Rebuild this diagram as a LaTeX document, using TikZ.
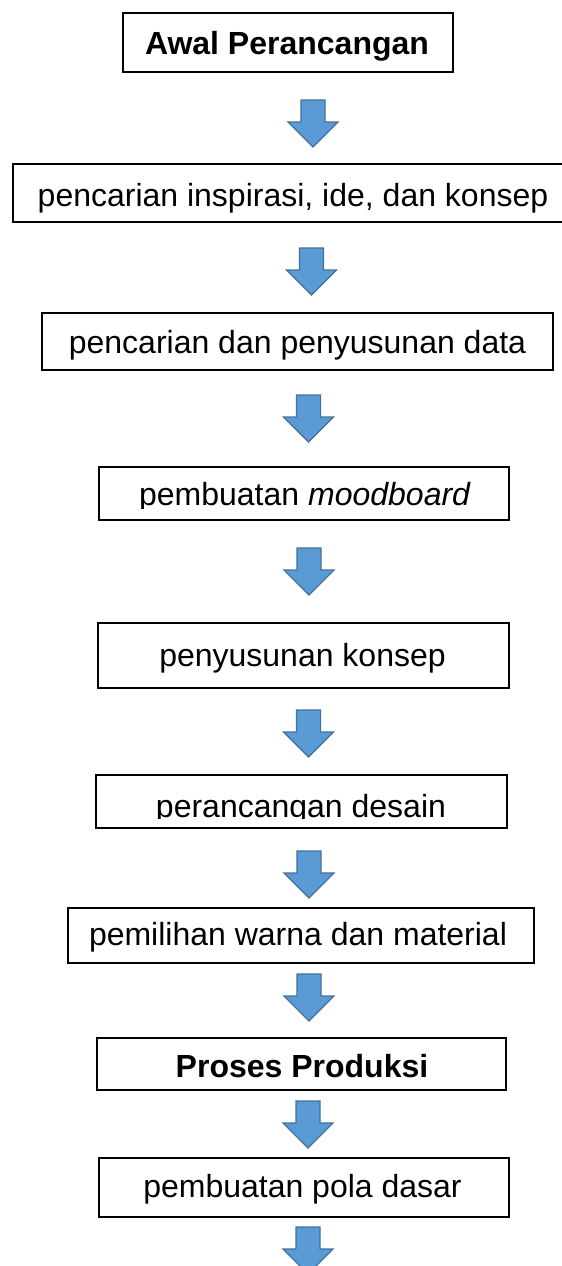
\documentclass[tikz,border=0pt]{standalone}
\usepackage{fontspec}
\setmainfont{Liberation Sans}
\usepackage{tikz}
\definecolor{arrowfill}{HTML}{5B9BD5}
\definecolor{arrowedge}{HTML}{41719C}
\tikzset{
	box/.style={draw=black,line width=1.8pt,rectangle,inner sep=0pt},
	steptext/.style={anchor=base,inner sep=0pt,font=\fontsize{32pt}{38pt}\selectfont},
	blockarrow/.style={fill=arrowfill,draw=arrowedge,line width=1.2pt,line join=miter}
}
\begin{document}
\begin{tikzpicture}[x=1pt,y=-1pt]
		\useasboundingbox (0,0) rectangle (562,1266);
		% boxes
		\node[box,minimum width=330pt,minimum height=59pt](b1) at (288,42.5){};
		\node[box,minimum width=552pt,minimum height=58pt](b2) at (289,193){};
		\node[box,minimum width=511pt,minimum height=57pt](b3) at (297.5,341.5){};
		\node[box,minimum width=410pt,minimum height=53pt](b4) at (304,493.5){};
		\node[box,minimum width=411pt,minimum height=65pt](b5) at (303.5,655.5){};
		\node[box,minimum width=411pt,minimum height=53pt](b6) at (301.5,801.5){};
		\node[box,minimum width=466pt,minimum height=55pt](b7) at (301,935.5){};
		\node[box,minimum width=409pt,minimum height=52pt](b8) at (301.5,1064){};
		\node[box,minimum width=410pt,minimum height=59pt](b9) at (304,1187.5){};
		% texts
		\node[steptext](t1) at (287,54.5){\bfseries Awal Perancangan};
		\node[steptext](t2) at (293,206){pencarian inspirasi, ide, dan konsep};
		\node[steptext](t3) at (297.5,353){pencarian dan penyusunan data};
		\begin{scope}
		\clip (b4.north west) rectangle (b4.east |- 0,508);
		\node[steptext](t4) at (305,505){pembuatan \textit{moodboard}};
		\end{scope}
		\node[steptext](t5) at (302.5,666){penyusunan konsep};
		\begin{scope}
		\clip (b6.north west) rectangle (b6.east |- 0,818);
		\node[steptext](t6) at (301,817){perancangan desain};
		\end{scope}
		\node[steptext](t7) at (298,945){pemilihan warna dan material};
		\node[steptext](t8) at (302,1077){\bfseries Proses Produksi};
		\node[steptext](t9) at (302.5,1197){pembuatan pola dasar};
		% block arrows
		\coordinate (a1) at (313,100);
		\coordinate (a2) at (311.5,248);
		\coordinate (a3) at (308.5,395);
		\coordinate (a4) at (309,548);
		\coordinate (a5) at (308.5,710);
		\coordinate (a6) at (309,851);
		\coordinate (a7) at (309,974);
		\coordinate (a8) at (308,1101);
		\coordinate (a9) at (308,1227);
		\draw[blockarrow](a1) ++(-12,0) -- ++(24,0) -- ++(0,22) -- ++(13,0) -- ++(-25,25) -- ++(-25,-25) -- ++(13,0) -- cycle;
		\draw[blockarrow](a2) ++(-12,0) -- ++(24,0) -- ++(0,22) -- ++(13,0) -- ++(-25,25) -- ++(-25,-25) -- ++(13,0) -- cycle;
		\draw[blockarrow](a3) ++(-12,0) -- ++(24,0) -- ++(0,22) -- ++(13,0) -- ++(-25,25) -- ++(-25,-25) -- ++(13,0) -- cycle;
		\draw[blockarrow](a4) ++(-12,0) -- ++(24,0) -- ++(0,22) -- ++(13,0) -- ++(-25,25) -- ++(-25,-25) -- ++(13,0) -- cycle;
		\draw[blockarrow](a5) ++(-12,0) -- ++(24,0) -- ++(0,22) -- ++(13,0) -- ++(-25,25) -- ++(-25,-25) -- ++(13,0) -- cycle;
		\draw[blockarrow](a6) ++(-12,0) -- ++(24,0) -- ++(0,22) -- ++(13,0) -- ++(-25,25) -- ++(-25,-25) -- ++(13,0) -- cycle;
		\draw[blockarrow](a7) ++(-12,0) -- ++(24,0) -- ++(0,22) -- ++(13,0) -- ++(-25,25) -- ++(-25,-25) -- ++(13,0) -- cycle;
		\draw[blockarrow](a8) ++(-12,0) -- ++(24,0) -- ++(0,22) -- ++(13,0) -- ++(-25,25) -- ++(-25,-25) -- ++(13,0) -- cycle;
		\draw[blockarrow](a9) ++(-12,0) -- ++(24,0) -- ++(0,22) -- ++(13,0) -- ++(-25,25) -- ++(-25,-25) -- ++(13,0) -- cycle;
		\end{tikzpicture}
\end{document}
